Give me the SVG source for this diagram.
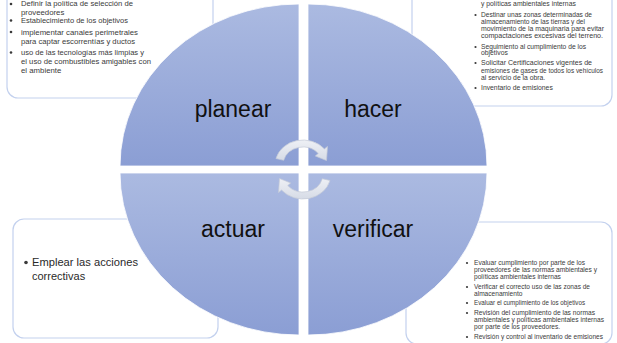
<svg xmlns="http://www.w3.org/2000/svg" width="617" height="343" viewBox="0 0 617 343">
<defs>
<linearGradient id="qg" x1="0" y1="0" x2="0" y2="1">
<stop offset="0" stop-color="#abbae1"/>
<stop offset="1" stop-color="#8b9ed4"/>
</linearGradient>
<linearGradient id="ag" x1="0" y1="0" x2="0" y2="1">
<stop offset="0" stop-color="#eef0f5"/>
<stop offset="1" stop-color="#d6dbe6"/>
</linearGradient>
<style>
.box{fill:#ffffff;stroke:#c3d1ee;stroke-width:1.2}
.q{fill:url(#qg);stroke:#ffffff;stroke-width:0.8}
.lbl{font-family:"Liberation Sans",Arial,sans-serif;font-size:23px;fill:#111111;text-anchor:middle}
.t1{font-family:"Liberation Sans",Arial,sans-serif;font-size:7.8px;fill:#3a3a3a}
.t2{font-family:"Liberation Sans",Arial,sans-serif;font-size:6.8px;fill:#3a3a3a}
.t3{font-family:"Liberation Sans",Arial,sans-serif;font-size:6.6px;fill:#3a3a3a}
.t4{font-family:"Liberation Sans",Arial,sans-serif;font-size:11px;fill:#2a2a2a}
.b{fill:#3a3a3a}
.arr{fill:url(#ag);stroke:#c4cad7;stroke-width:0.7}
</style>
</defs>

<g id="box-planear">
<rect class="box" x="7" y="-20" width="206" height="118" rx="11"/>
<circle class="b" cx="11" cy="4" r="1.3"/>
<text class="t1" x="21" y="6.3" style="font-size:7.2px" textLength="112" lengthAdjust="spacingAndGlyphs">Definir la política de selección de</text>
<text class="t1" x="21" y="14.9">proveedores</text>
<circle class="b" cx="11" cy="20.5" r="1.3"/>
<text class="t1" x="21" y="23" textLength="107" lengthAdjust="spacingAndGlyphs">Establecimiento de los objetivos</text>
<circle class="b" cx="11" cy="32" r="1.3"/>
<text class="t1" x="21" y="34.5" textLength="117" lengthAdjust="spacingAndGlyphs">implementar canales perimetrales</text>
<text class="t1" x="21" y="43.5" textLength="114" lengthAdjust="spacingAndGlyphs">para captar escorrentías y ductos</text>
<circle class="b" cx="11" cy="52.5" r="1.3"/>
<text class="t1" x="21" y="55" textLength="123" lengthAdjust="spacingAndGlyphs">uso de las tecnologías más limpias y</text>
<text class="t1" x="21" y="64" textLength="130" lengthAdjust="spacingAndGlyphs">el uso de combustibles amigables con</text>
<text class="t1" x="21" y="72.5">el ambiente</text>
</g>

<g id="box-hacer">
<rect class="box" x="412" y="-20" width="200" height="126" rx="11"/>
<text class="t2" x="481" y="6">y políticas ambientales internas</text>
<circle class="b" cx="475.5" cy="15" r="1.1"/>
<text class="t2" x="481" y="17" textLength="111" lengthAdjust="spacingAndGlyphs">Destinar unas zonas determinadas de</text>
<text class="t2" x="481" y="24" textLength="104" lengthAdjust="spacingAndGlyphs">almacenamiento de las tierras y del</text>
<text class="t2" x="481" y="31" textLength="123" lengthAdjust="spacingAndGlyphs">movimiento de la maquinaria para evitar</text>
<text class="t2" x="481" y="38" textLength="122" lengthAdjust="spacingAndGlyphs">compactaciones excesivas del terreno.</text>
<circle class="b" cx="475.5" cy="47" r="1.1"/>
<text class="t2" x="481" y="49" textLength="105" lengthAdjust="spacingAndGlyphs">Seguimiento al cumplimiento de los</text>
<text class="t2" x="481" y="55">objetivos</text>
<circle class="b" cx="475.5" cy="63" r="1.1"/>
<text class="t2" x="481" y="65" textLength="111" lengthAdjust="spacingAndGlyphs">Solicitar Certificaciones vigentes de</text>
<text class="t2" x="481" y="72.5" textLength="122" lengthAdjust="spacingAndGlyphs">emisiones de gases de todos los vehículos</text>
<text class="t2" x="481" y="80">al servicio de la obra.</text>
<circle class="b" cx="475.5" cy="88" r="1.1"/>
<text class="t2" x="481" y="90">Inventario de emisiones</text>
</g>

<g id="box-actuar">
<rect class="box" x="13" y="219" width="205" height="119" rx="11"/>
<circle class="b" cx="26" cy="262.5" r="1.8"/>
<text class="t4" x="32" y="266" textLength="106" lengthAdjust="spacingAndGlyphs">Emplear las acciones</text>
<text class="t4" x="32" y="280">correctivas</text>
</g>

<g id="box-verificar">
<rect class="box" x="406" y="222" width="206" height="122" rx="11"/>
<circle class="b" cx="467" cy="263" r="1.1"/>
<text class="t3" x="474" y="265" textLength="111" lengthAdjust="spacingAndGlyphs">Evaluar cumplimiento por parte de los</text>
<text class="t3" x="474" y="272" textLength="123" lengthAdjust="spacingAndGlyphs">proveedores de las normas ambientales y</text>
<text class="t3" x="474" y="279">políticas ambientales internas</text>
<circle class="b" cx="467" cy="287" r="1.1"/>
<text class="t3" x="474" y="289" textLength="116" lengthAdjust="spacingAndGlyphs">Verificar el correcto uso de las zonas de</text>
<text class="t3" x="474" y="296">almacenamiento</text>
<circle class="b" cx="467" cy="303" r="1.1"/>
<text class="t3" x="474" y="305" textLength="111" lengthAdjust="spacingAndGlyphs">Evaluar el cumplimiento de los objetivos</text>
<circle class="b" cx="467" cy="313" r="1.1"/>
<text class="t3" x="474" y="315" textLength="121" lengthAdjust="spacingAndGlyphs">Revisión del cumplimiento de las normas</text>
<text class="t3" x="474" y="322" textLength="130" lengthAdjust="spacingAndGlyphs">ambientales y políticas ambientales internas</text>
<text class="t3" x="474" y="329">por parte de los proveedores.</text>
<circle class="b" cx="467" cy="337" r="1.1"/>
<text class="t3" x="474" y="339" textLength="129" lengthAdjust="spacingAndGlyphs">Revisión y control al inventario de emisiones</text>
</g>

<g id="planear">
<path class="q" d="M299,166 L120,166 A179,162 0 0 1 299,4 Z"/>
<text class="lbl" x="233" y="117">planear</text>
</g>
<g id="hacer">
<path class="q" d="M308,166 L308,4 A179,162 0 0 1 487,166 Z"/>
<text class="lbl" x="373" y="117">hacer</text>
</g>
<g id="verificar">
<path class="q" d="M308,173 L487,173 A179,162 0 0 1 308,335 Z"/>
<text class="lbl" x="373" y="237">verificar</text>
</g>
<g id="actuar">
<path class="q" d="M299,173 L299,335 A179,162 0 0 1 120,173 Z"/>
<text class="lbl" x="233" y="237">actuar</text>
</g>

<g id="connectors">
<path class="arr" d="M275.95,158.5 A28,25 0 0 1 324.4,148.9 L327.5,146.4 L326.5,160.5 L315.3,156 L318.3,153.4 A20,18 0 0 0 283.7,160.3 Z"/>
<path class="arr" d="M330.05,180.5 A28,25 0 0 1 281.55,190.07 L278.5,192.6 L279.5,178.5 L290.7,183 L287.7,185.6 A20,18 0 0 0 322.3,178.7 Z"/>
</g>
</svg>
